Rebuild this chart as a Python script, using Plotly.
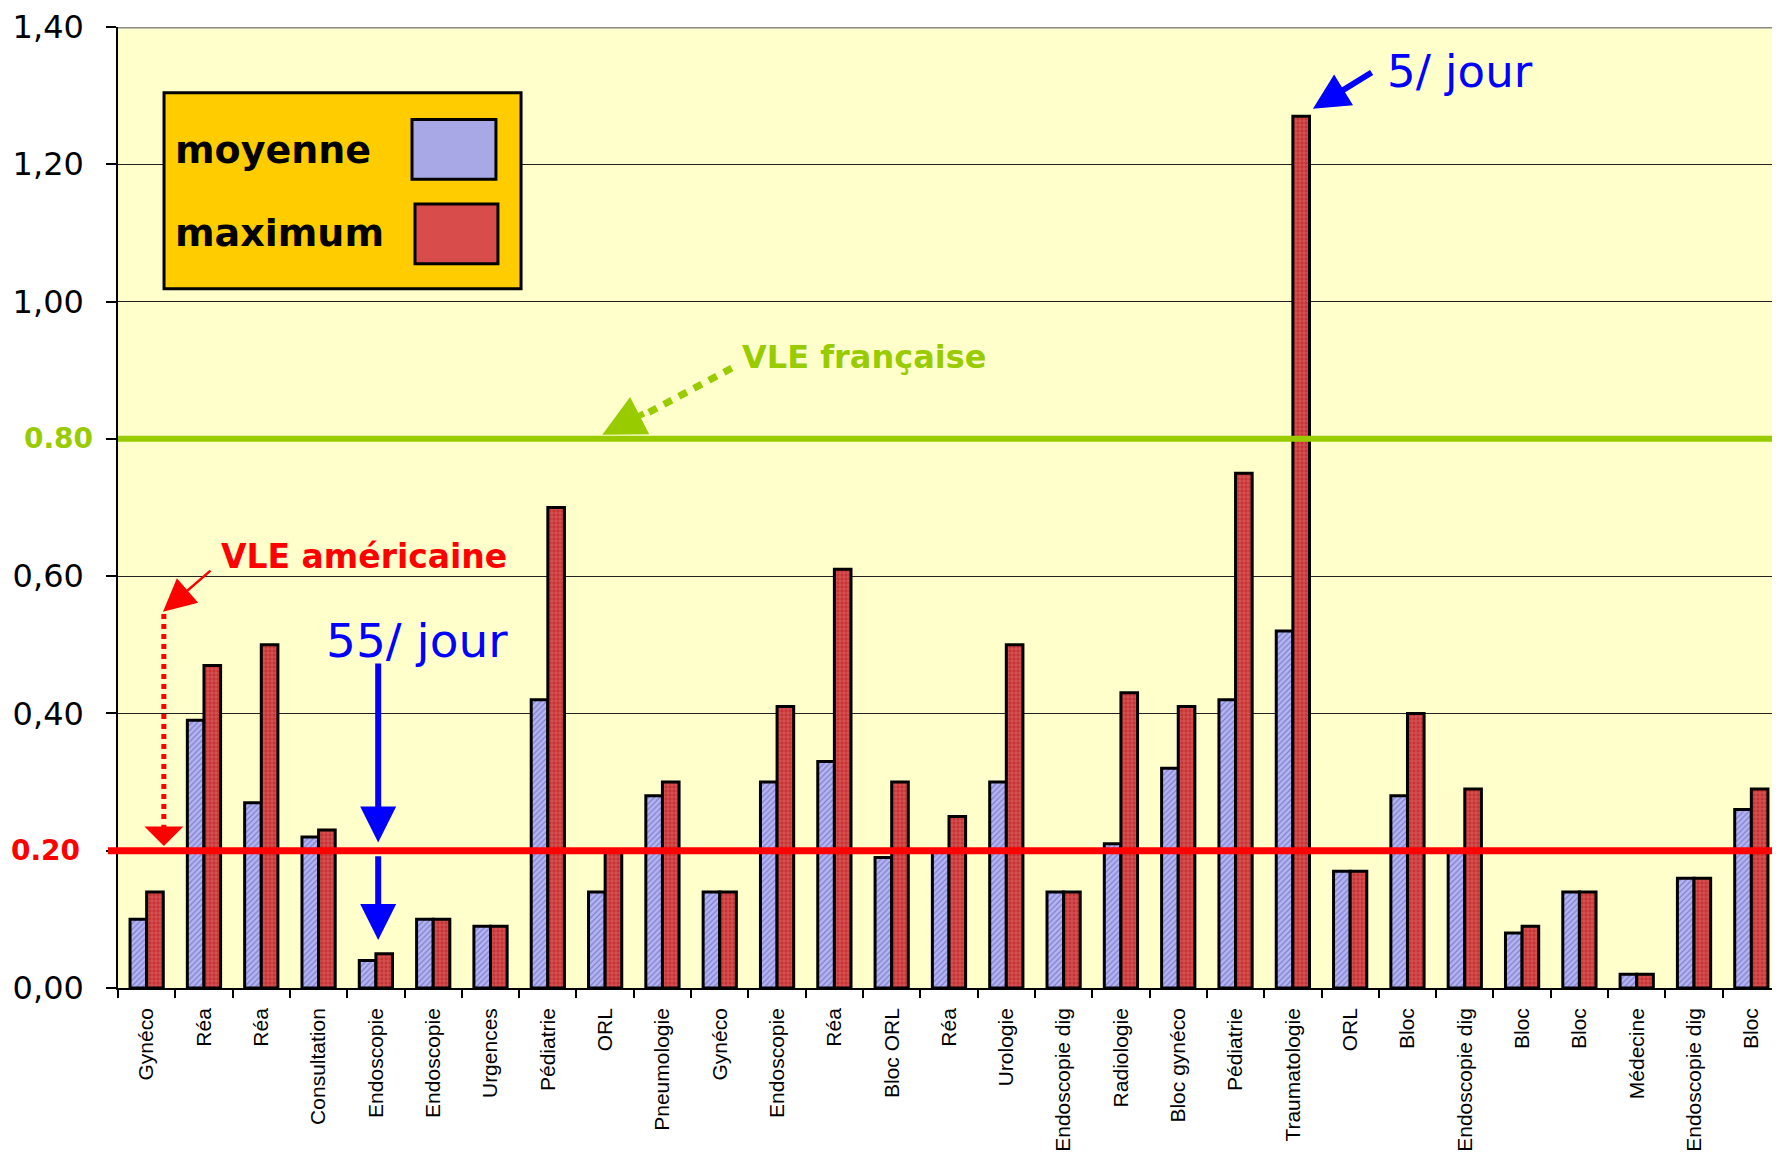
import plotly.graph_objects as go

categories = ["Gynéco", "Réa", "Réa", "Consultation", "Endoscopie", "Endoscopie",
              "Urgences", "Pédiatrie", "ORL", "Pneumologie", "Gynéco", "Endoscopie",
              "Réa", "Bloc ORL", "Réa", "Urologie", "Endoscopie dig", "Radiologie",
              "Bloc gynéco", "Pédiatrie", "Traumatologie", "ORL", "Bloc",
              "Endoscopie dig", "Bloc", "Bloc", "Médecine", "Endoscopie dig", "Bloc"]
moyenne = [0.10, 0.39, 0.27, 0.22, 0.04, 0.10, 0.09, 0.42, 0.14, 0.28, 0.14, 0.30,
           0.33, 0.19, 0.20, 0.30, 0.14, 0.21, 0.32, 0.42, 0.52, 0.17, 0.28, 0.20,
           0.08, 0.14, 0.02, 0.16, 0.26]
maximum = [0.14, 0.47, 0.50, 0.23, 0.05, 0.10, 0.09, 0.70, 0.20, 0.30, 0.14, 0.41,
           0.61, 0.30, 0.25, 0.50, 0.14, 0.43, 0.41, 0.75, 1.27, 0.17, 0.40, 0.29,
           0.09, 0.14, 0.02, 0.16, 0.29]
y_tick_values = [0.0, 0.2, 0.4, 0.6, 0.8, 1.0, 1.2, 1.4]
y_tick_labels = ["0,00", "", "0,40", "0,60", "", "1,00", "1,20", "1,40"]
vle_us = 0.20
vle_fr = 0.80

xs = list(range(len(categories)))

fig = go.Figure()
fig.add_trace(go.Bar(
    x=xs, y=moyenne, name="moyenne", showlegend=False,
    marker=dict(color="#B4B4F4", line=dict(color="black", width=3),
                pattern=dict(shape="/", fgcolor="#4A4AA0", bgcolor="#B4B4F4",
                             size=4, solidity=0.3)),
))
fig.add_trace(go.Bar(
    x=xs, y=maximum, name="maximum", showlegend=False,
    marker=dict(color="#CC3838", line=dict(color="black", width=3),
                pattern=dict(shape="+", fgcolor="#F29A9A", bgcolor="#C83434",
                             size=4, solidity=0.3)),
))

fig.update_layout(
    width=1772, height=1144,
    margin=dict(l=110, r=0, t=18, b=161),
    paper_bgcolor="white", plot_bgcolor="#FFFFCC",
    barmode="group", bargap=0.42, bargroupgap=0,
    font=dict(family="DejaVu Sans", color="black"),
)
fig.update_xaxes(
    range=[-0.5, len(categories) - 0.5],
    tickmode="array", tickvals=xs, ticktext=categories, tickangle=-90,
    ticks="", showgrid=False, zeroline=False,
    showline=True, linecolor="black", linewidth=1.5,
    tickfont=dict(family="Liberation Sans", size=21, color="black"),
    ticklabelstandoff=10,
    minor=dict(tick0=-0.5, dtick=1, ticks="outside", ticklen=8, tickcolor="black",
               tickwidth=1.5, showgrid=False),
)
fig.update_yaxes(
    range=[0, 1.4], tickmode="array", tickvals=y_tick_values, ticktext=y_tick_labels,
    ticks="outside", ticklen=10, tickcolor="black", tickwidth=1.5,
    showgrid=True, gridcolor="#222222", gridwidth=1, zeroline=False,
    showline=True, linecolor="black", linewidth=1.5,
    tickfont=dict(family="DejaVu Sans", size=32, color="black"),
    ticklabelstandoff=16, ticklabeloverflow="allow",
)

# top border
fig.add_shape(type="line", xref="paper", yref="y", x0=0, x1=1, y0=1.4, y1=1.4,
              line=dict(color="#8A8A8A", width=3))
# threshold lines
fig.add_shape(type="line", xref="paper", yref="y", x0=0, x1=1, y0=vle_fr, y1=vle_fr,
              line=dict(color="#99CC00", width=6))
fig.add_shape(type="line", xref="paper", yref="y", x0=-0.006, x1=1, y0=vle_us, y1=vle_us,
              line=dict(color="#FF0000", width=7))

# colored axis labels
fig.add_annotation(text="<b>0.80</b>", xref="paper", yref="y", x=-0.0138, y=vle_fr,
                   xanchor="right", yanchor="middle", showarrow=False,
                   font=dict(family="DejaVu Sans", size=28, color="#99CC00"))
fig.add_annotation(text="<b>0.20</b>", xref="paper", yref="y", x=-0.0217, y=vle_us,
                   xanchor="right", yanchor="middle", showarrow=False,
                   font=dict(family="DejaVu Sans", size=28, color="#FF0000"))


def arrow(x, y, ax, ay, color, width, head, size):
    fig.add_annotation(x=x, y=y, ax=ax, ay=ay, xref="x", yref="y", axref="x", ayref="y",
                       text="", showarrow=True, arrowhead=head, arrowsize=size,
                       arrowwidth=width, arrowcolor=color)


# VLE française
fig.add_annotation(text="<b>VLE française</b>", x=12.53, y=0.919, xref="x", yref="y",
                   showarrow=False, font=dict(family="DejaVu Sans", size=32, color="#99CC00"))
fig.add_shape(type="line", xref="x", yref="y", x0=10.21, y0=0.903, x1=8.75, y1=0.838,
              line=dict(color="#99CC00", width=7, dash="9px,8px"))
arrow(7.95, 0.806, 8.70, 0.838, "#99CC00", 6, 2, 1.4)

# VLE américaine
fig.add_annotation(text="<b>VLE américaine</b>", x=3.79, y=0.628, xref="x", yref="y",
                   showarrow=False, font=dict(family="DejaVu Sans", size=33, color="#FF0000"))
arrow(0.285, 0.548, 1.14, 0.610, "#FF0000", 2.5, 2, 2.6)
fig.add_shape(type="line", xref="x", yref="y", x0=0.30, y0=0.545, x1=0.30, y1=0.245,
              line=dict(color="#FF0000", width=5, dash="dot"))
arrow(0.30, 0.207, 0.30, 0.240, "#FF0000", 5, 1, 1.3)

# 55/ jour
fig.add_annotation(text="55/ jour", x=4.72, y=0.506, xref="x", yref="y",
                   showarrow=False, font=dict(family="DejaVu Sans", size=47, color="#0000FF"))
arrow(4.04, 0.212, 4.04, 0.475, "#0000FF", 6, 2, 1.2)
arrow(4.04, 0.070, 4.04, 0.194, "#0000FF", 6, 2, 1.2)

# 5/ jour
fig.add_annotation(text="5/ jour", x=22.92, y=1.335, xref="x", yref="y",
                   showarrow=False, font=dict(family="DejaVu Sans", size=45, color="#0000FF"))
arrow(20.35, 1.281, 21.40, 1.335, "#0000FF", 6, 2, 1.2)

# custom legend box
fig.add_shape(type="rect", xref="paper", yref="paper", x0=0.0277, x1=0.2425, y0=0.7277, y1=0.9317,
              fillcolor="#FFCC00", line=dict(color="black", width=3))
fig.add_shape(type="rect", xref="paper", yref="paper", x0=0.1769, x1=0.2274, y0=0.8416, y1=0.9037,
              fillcolor="#A8A8E6", line=dict(color="black", width=3))
fig.add_shape(type="rect", xref="paper", yref="paper", x0=0.1787, x1=0.2286, y0=0.7536, y1=0.8157,
              fillcolor="#D84C4C", line=dict(color="black", width=3))
fig.add_annotation(text="<b>moyenne</b>", xref="paper", yref="paper", x=0.0331, y=0.872,
                   xanchor="left", yanchor="middle", showarrow=False,
                   font=dict(family="DejaVu Sans", size=38, color="black"))
fig.add_annotation(text="<b>maximum</b>", xref="paper", yref="paper", x=0.0331, y=0.786,
                   xanchor="left", yanchor="middle", showarrow=False,
                   font=dict(family="DejaVu Sans", size=38, color="black"))

fig.write_html("out.html")
